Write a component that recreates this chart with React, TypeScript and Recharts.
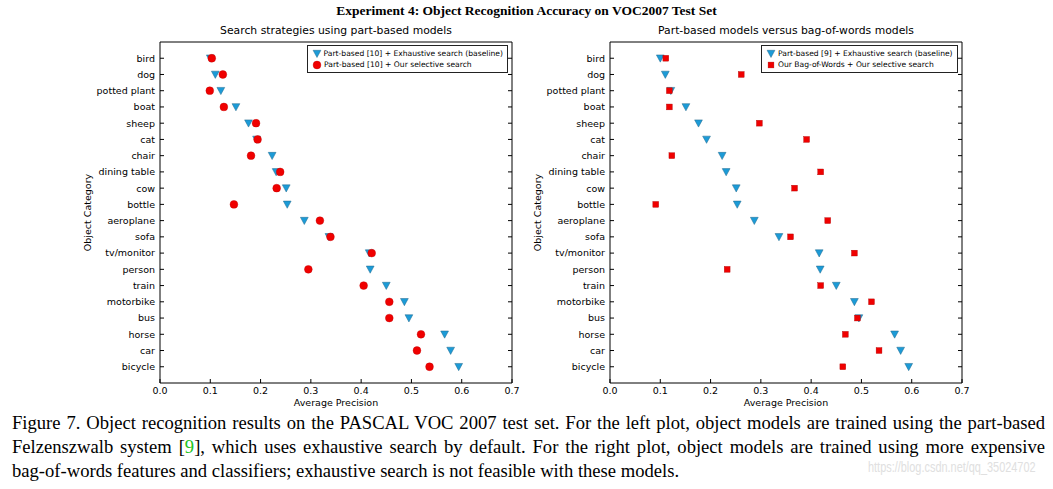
import React from 'react';
import { ScatterChart, Scatter, XAxis, YAxis, Legend } from 'recharts';

const categories = ['bird', 'dog', 'potted plant', 'boat', 'sheep', 'cat', 'chair', 'dining table', 'cow', 'bottle', 'aeroplane', 'sofa', 'tv/monitor', 'person', 'train', 'motorbike', 'bus', 'horse', 'car', 'bicycle'];

const partBasedExhaustive = [0.100, 0.110, 0.121, 0.151, 0.176, 0.192, 0.223, 0.231, 0.251, 0.253, 0.287, 0.336, 0.416, 0.418, 0.450, 0.486, 0.495, 0.566, 0.578, 0.594];
const partBasedSelective = [0.103, 0.125, 0.099, 0.127, 0.191, 0.194, 0.181, 0.239, 0.232, 0.147, 0.318, 0.339, 0.421, 0.295, 0.405, 0.456, 0.456, 0.519, 0.511, 0.536];
const bowSelective = [0.111, 0.261, 0.118, 0.118, 0.297, 0.391, 0.123, 0.419, 0.367, 0.091, 0.433, 0.359, 0.486, 0.233, 0.419, 0.520, 0.492, 0.468, 0.535, 0.463];

const xTicks = [0, 0.1, 0.2, 0.3, 0.4, 0.5, 0.6, 0.7];
const yTicks = categories.map((_, i) => i);

const toPoints = (vals: number[]) => vals.map((v, i) => ({ ap: v, idx: i }));

const SANS = '"DejaVu Sans", sans-serif';
const BLUE = '#1c9bd7';
const RED = '#f00000';

const Tri = (p: any) => {
  const { cx, cy } = p;
  if (cx == null || cy == null) return null;
  const w = 3.9, h = 3.3;
  return <polygon points={`${cx - w},${cy - h} ${cx + w},${cy - h} ${cx},${cy + h + 0.6}`} fill={BLUE} stroke="#21698c" strokeWidth={0.5} />;
};
const Dot = (p: any) => {
  const { cx, cy } = p;
  if (cx == null || cy == null) return null;
  return <circle cx={cx} cy={cy} r={3.9} fill={RED} stroke="#c00000" strokeWidth={0.4} />;
};
const Sq = (p: any) => {
  const { cx, cy } = p;
  if (cx == null || cy == null) return null;
  return <rect x={cx - 2.9} y={cy - 2.9} width={5.8} height={5.8} fill={RED} stroke="#b00000" strokeWidth={0.4} />;
};

const fmtX = (v: number) => v.toFixed(1);
const fmtY = (v: number) => categories[v] ?? '';
const blank = () => '';

const tickFont = { fontSize: 9.5, fill: '#000', fontFamily: SANS };

const LegendBox = ({ items }: { items: { label: string; kind: string }[] }) => (
  <div style={{ border: '1px solid #222', background: '#fff', padding: '2px 4px 2px 4px', fontFamily: SANS, fontSize: 7.6, lineHeight: '11px', color: '#000', boxSizing: 'border-box' }}>
    {items.map((it) => (
      <div key={it.label} style={{ display: 'flex', alignItems: 'center', whiteSpace: 'nowrap' }}>
        <svg width={10} height={10} style={{ marginRight: 2 }}>
          {it.kind === 'tri' ? <Tri cx={5} cy={4.6} /> : it.kind === 'dot' ? <Dot cx={5} cy={5} /> : <Sq cx={5} cy={5} />}
        </svg>
        <span>{it.label}</span>
      </div>
    ))}
  </div>
);

const Panel = ({ left, series, legendItems, legendLeft, legendWidth }: any) => (
  <div style={{ position: 'absolute', left, top: 0 }}>
    <ScatterChart width={530} height={410} margin={{ top: 0, right: 17, bottom: 0, left: 0 }}>
      <XAxis xAxisId="b" dataKey="ap" type="number" domain={[0, 0.7]} ticks={xTicks} orientation="bottom" height={27}
        tickFormatter={fmtX} tick={tickFont} tickSize={-4} tickMargin={8} axisLine={{ stroke: '#000' }} tickLine={{ stroke: '#000' }}
        allowDataOverflow
        label={{ value: 'Average Precision', position: 'insideBottom', offset: 4, fill: '#000', style: { fontSize: 9.5, fill: '#000', fontFamily: SANS } }} />
      <XAxis xAxisId="t" type="number" domain={[0, 0.7]} ticks={xTicks} orientation="top" height={42}
        tickFormatter={blank} tickSize={-4} axisLine={{ stroke: '#000' }} tickLine={{ stroke: '#000' }} allowDataOverflow />
      <YAxis yAxisId="l" dataKey="idx" type="number" domain={[-1, 20]} ticks={yTicks} reversed width={160} interval={0}
        tickFormatter={fmtY} tick={tickFont} tickSize={-4} tickMargin={9} axisLine={{ stroke: '#000' }} tickLine={{ stroke: '#000' }}
        allowDataOverflow
        label={{ value: 'Object Category', angle: -90, position: 'insideLeft', offset: 88, fill: '#000', style: { textAnchor: 'middle', fontSize: 9.5, fill: '#000', fontFamily: SANS } }} />
      <YAxis yAxisId="r" type="number" domain={[-1, 20]} ticks={yTicks} reversed orientation="right" width={1} interval={0}
        tickFormatter={blank} tickSize={-4} axisLine={{ stroke: '#000' }} tickLine={{ stroke: '#000' }} allowDataOverflow />
      {series.map((s: any) => (
        <Scatter key={s.name} name={s.name} data={toPoints(s.values)} xAxisId="b" yAxisId="l" shape={s.shape} isAnimationActive={false} />
      ))}
      <Legend layout="horizontal" verticalAlign="middle" align="center"
        wrapperStyle={{ position: 'absolute', top: 45, left: legendLeft, width: legendWidth }}
        content={() => <LegendBox items={legendItems} />} />
    </ScatterChart>
  </div>
);

const leftSeries = [
  { name: 'Part-based [10] + Exhaustive search (baseline)', values: partBasedExhaustive, shape: Tri },
  { name: 'Part-based [10] + Our selective search', values: partBasedSelective, shape: Dot },
];
const rightSeries = [
  { name: 'Part-based [9] + Exhaustive search (baseline)', values: partBasedExhaustive, shape: Tri },
  { name: 'Our Bag-of-Words + Our selective search', values: bowSelective, shape: Sq },
];

export default function App() {
  return (
    <div style={{ position: 'absolute', left: 0, top: 0, width: 1053, height: 489, background: '#fff', overflow: 'hidden' }}>
      <div style={{ position: 'absolute', left: 0, top: 3, width: 1053, textAlign: 'center', fontFamily: '"Liberation Serif", serif', fontWeight: 'bold', fontSize: 13.5, color: '#000' }}>
        Experiment 4: Object Recognition Accuracy on VOC2007 Test Set
      </div>
      <div style={{ position: 'absolute', left: 160, top: 24, width: 352, textAlign: 'center', fontFamily: SANS, fontSize: 10.8, color: '#000', whiteSpace: 'nowrap' }}>
        Search strategies using part-based models
      </div>
      <div style={{ position: 'absolute', left: 610, top: 24, width: 352, textAlign: 'center', fontFamily: SANS, fontSize: 10.8, color: '#000', whiteSpace: 'nowrap' }}>
        Part-based models versus bag-of-words models
      </div>
      <Panel left={0} series={leftSeries} legendLeft={307} legendWidth={201}
        legendItems={[{ label: leftSeries[0].name, kind: 'tri' }, { label: leftSeries[1].name, kind: 'dot' }]} />
      <Panel left={450} series={rightSeries} legendLeft={311} legendWidth={197}
        legendItems={[{ label: rightSeries[0].name, kind: 'tri' }, { label: rightSeries[1].name, kind: 'sq' }]} />
      <div style={{ position: 'absolute', left: 12, top: 411, width: 1033, fontFamily: '"Liberation Serif", serif', fontSize: 18.6, lineHeight: '24px', color: '#000' }}>
        <div style={{ textAlign: 'justify', textAlignLast: 'justify', whiteSpace: 'nowrap' }}>Figure 7. Object recognition results on the PASCAL VOC 2007 test set. For the left plot, object models are trained using the part-based</div>
        <div style={{ textAlign: 'justify', textAlignLast: 'justify', whiteSpace: 'nowrap' }}>Felzenszwalb system [<span style={{ color: '#22c422' }}>9</span>], which uses exhaustive search by default. For the right plot, object models are trained using more expensive</div>
        <div style={{ whiteSpace: 'nowrap' }}>bag-of-words features and classifiers; exhaustive search is not feasible with these models.</div>
      </div>
      <div style={{ position: 'absolute', left: 868, top: 459, fontFamily: '"Liberation Sans", sans-serif', fontSize: 14, color: '#e0e0e0', transform: 'scaleX(0.78)', transformOrigin: 'left top', whiteSpace: 'nowrap' }}>
        https://blog.csdn.net/qq_35024702
      </div>
    </div>
  );
}
